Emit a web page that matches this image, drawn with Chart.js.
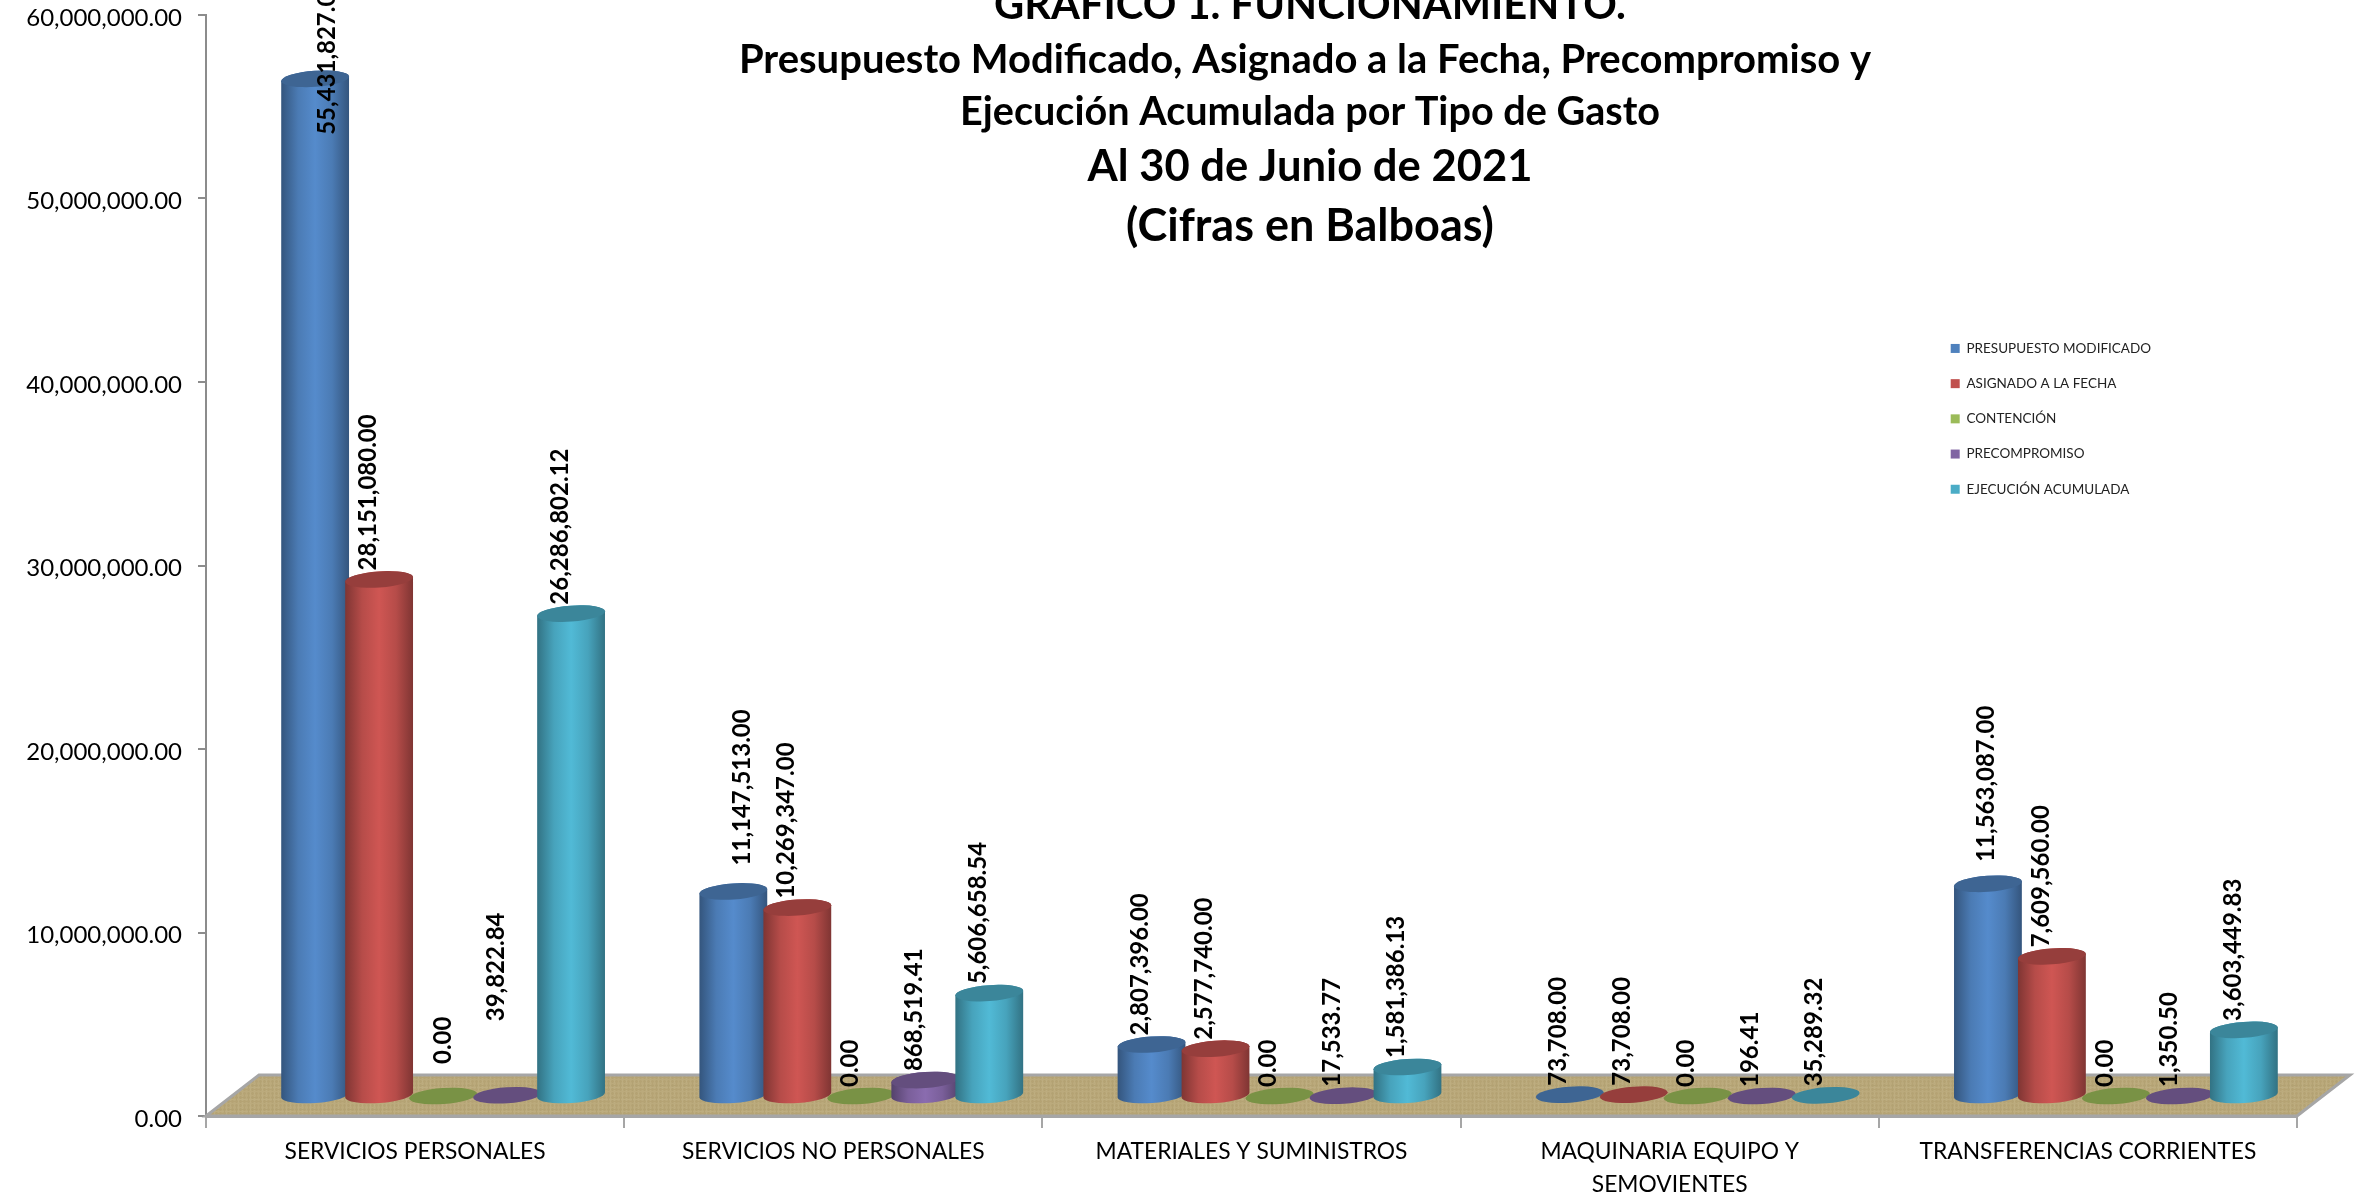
<!DOCTYPE html>
<html>
<head>
<meta charset="utf-8">
<title>Grafico 1</title>
<script src="https://cdnjs.cloudflare.com/ajax/libs/Chart.js/4.4.0/chart.umd.min.js"></script>
<style>
  html, body { margin: 0; padding: 0; background: #fff; overflow: hidden; }
  canvas { display: block; }
</style>
</head>
<body>
<canvas id="chartCanvas" width="2371" height="1199"></canvas>
<script>
const categories = [
    "SERVICIOS PERSONALES",
    "SERVICIOS NO PERSONALES",
    "MATERIALES Y SUMINISTROS",
    ["MAQUINARIA EQUIPO Y", "SEMOVIENTES"],
    "TRANSFERENCIAS CORRIENTES"
];
const seriesNames = ["PRESUPUESTO MODIFICADO", "ASIGNADO A LA FECHA", "CONTENCIÓN", "PRECOMPROMISO", "EJECUCIÓN ACUMULADA"];
const presupuesto = [55431827.00, 11147513.00, 2807396.00, 73708.00, 11563087.00];
const asignado = [28151080.00, 10269347.00, 2577740.00, 73708.00, 7609560.00];
const contencion = [0, 0, 0, 0, 0];
const precompromiso = [39822.84, 868519.41, 17533.77, 196.41, 1350.50];
const ejecucion = [26286802.12, 5606658.54, 1581386.13, 35289.32, 3603449.83];
const seriesColors = ["#4F81BD", "#C0504D", "#9BBB59", "#8064A2", "#4BACC6"];
const titleLines = [
    "GRAFICO 1. FUNCIONAMIENTO.",
    "Presupuesto Modificado, Asignado a la Fecha, Precompromiso y",
    "Ejecución Acumulada por Tipo de Gasto",
    "Al 30 de Junio de 2021",
    "(Cifras en Balboas)"
];

// text placement and the fake 3d depth: [x, y, max width, font size]
const titleStyle = [[1310, 5, 632, 42], [1305, 60, 1133, 40], [1310, 112, 700, 40], [1310, 167, 445, 44], [1310, 226, 369, 45]];
const depthX = 28, depthY = 20, backX = 53, backY = 41;
const tilt = -0.07, radiusY = 8;
// labels that were moved by hand in the original, "dataset:category": [dx, dy]
const labelNudges = {
    "0:0": [23, 65],
    "2:0": [11, -23],
    "3:0": [0, -65],
    "0:1": [20, -17],
    "0:4": [9, -13]
};

function money(v) {
    return v.toLocaleString("en-US", {minimumFractionDigits: 2, maximumFractionDigits: 2});
}

function shade(hex, f) {
    const n = parseInt(hex.slice(1), 16);
    const c = [n >> 16, (n >> 8) & 255, n & 255].map(v => Math.min(255, Math.round(v * f)));
    return "rgb(" + c.join(",") + ")";
}

function floorPattern(ctx) {
    const p = document.createElement("canvas");
    p.width = 12; p.height = 12;
    const g = p.getContext("2d");
    g.fillStyle = "#B8A779";
    g.fillRect(0, 0, 12, 12);
    const tones = ["#B3A273", "#BDAD80", "#B5A374", "#BBAA7C"];
    for (let i = 0; i < 12; i += 2) {
        g.fillStyle = tones[i / 2 % 4];
        g.fillRect(i, 0, 1, 12);
        g.fillStyle = tones[(i / 2 + 2) % 4];
        g.fillRect(0, i + 1, 12, 1);
    }
    return ctx.createPattern(p, "repeat");
}

function drawFloor(chart) {
    const ctx = chart.ctx, a = chart.chartArea;
    ctx.save();
    ctx.beginPath();
    ctx.moveTo(a.left, a.bottom);
    ctx.lineTo(a.right, a.bottom);
    ctx.lineTo(a.right + backX, a.bottom - backY);
    ctx.lineTo(a.left + backX, a.bottom - backY);
    ctx.closePath();
    ctx.fillStyle = floorPattern(ctx);
    ctx.fill();
    ctx.strokeStyle = "#A6A6A6";
    ctx.lineWidth = 3;
    ctx.stroke();
    ctx.restore();
}

function drawCylinder(ctx, el, color) {
    const cx = el.x + depthX, top = el.y - depthY, base = el.base - depthY;
    const rx = el.width / 2 + 2;
    const dy = rx * Math.sin(tilt), dx = rx * Math.cos(tilt);
    if (base - top > 2) {
        const grad = ctx.createLinearGradient(cx - rx, 0, cx + rx, 0);
        grad.addColorStop(0, shade(color, 0.66));
        grad.addColorStop(0.25, shade(color, 0.95));
        grad.addColorStop(0.5, shade(color, 1.08));
        grad.addColorStop(0.75, shade(color, 0.95));
        grad.addColorStop(1, shade(color, 0.66));
        ctx.beginPath();
        ctx.ellipse(cx, base, rx, radiusY, tilt, 0, Math.PI);
        ctx.lineTo(cx - dx, top - dy);
        ctx.ellipse(cx, top, rx, radiusY, tilt, Math.PI, Math.PI * 2);
        ctx.closePath();
        ctx.fillStyle = grad;
        ctx.fill();
    }
    ctx.beginPath();
    ctx.ellipse(cx, top, rx, radiusY, tilt, 0, Math.PI * 2);
    ctx.fillStyle = shade(color, 0.78);
    ctx.fill();
}

const cylinderPlugin = {
    id: "cylinders",
    beforeDraw(chart) {
        // legend sits inside the plot, top right
        const l = chart.legend;
        l.left = 1929; l.right = 2200; l.top = 320; l.bottom = 520;
        // Lato sits a little high on its middle baseline
        const y = chart.scales.y, drawLabels = y.drawLabels;
        y.drawLabels = function (area) {
            chart.ctx.save();
            chart.ctx.translate(0, 3);
            drawLabels.call(y, area);
            chart.ctx.restore();
        };
    },
    beforeDatasetsDraw(chart) {
        drawFloor(chart);
        chart.data.datasets.forEach((ds, i) => {
            chart.getDatasetMeta(i).data.forEach(el => drawCylinder(chart.ctx, el, ds.backgroundColor));
        });
        return false;
    },
    afterDraw(chart) {
        const ctx = chart.ctx;
        ctx.save();
        ctx.fillStyle = "#000";
        // value labels, turned to read upwards
        ctx.font = "bold 24px Lato";
        ctx.textAlign = "left";
        ctx.textBaseline = "middle";
        chart.data.datasets.forEach((ds, i) => {
            chart.getDatasetMeta(i).data.forEach((el, j) => {
                const nudge = labelNudges[i + ":" + j] || [0, 0];
                ctx.save();
                ctx.translate(el.x + depthX - 11 + nudge[0], el.y - depthY - radiusY - 1 + nudge[1]);
                ctx.rotate(-Math.PI / 2);
                ctx.fillText(money(ds.data[j]), 0, 0);
                ctx.restore();
            });
        });
        // title block
        ctx.textAlign = "center";
        titleLines.forEach((line, i) => {
            const s = titleStyle[i];
            ctx.font = "bold " + s[3] + "px Lato";
            ctx.fillText(line, s[0], s[1], s[2]);
        });
        ctx.restore();
    }
};

new Chart(document.getElementById("chartCanvas").getContext("2d"), {
    type: "bar",
    data: {
        labels: categories,
        datasets: [presupuesto, asignado, contencion, precompromiso, ejecucion].map((values, i) => ({
            label: seriesNames[i],
            data: values,
            backgroundColor: seriesColors[i],
            borderWidth: 0
        }))
    },
    options: {
        responsive: false,
        animation: false,
        categoryPercentage: 0.765,
        barPercentage: 1,
        layout: {padding: {top: 15, right: 74, left: 0, bottom: 0}},
        plugins: {
            title: {display: false},
            tooltip: {enabled: false},
            legend: {
                position: "chartArea",
                align: "start",
                labels: {
                    boxWidth: 9,
                    boxHeight: 9,
                    padding: 21.7,
                    color: "#222",
                    font: {family: "Lato", size: 13.5}
                }
            }
        },
        scales: {
            x: {
                afterFit(scale) { scale.height = 83; },
                grid: {drawOnChartArea: false, color: "#A6A6A6", lineWidth: 2, tickLength: 12, offset: true},
                border: {color: "#A6A6A6", width: 3},
                ticks: {color: "#000", maxRotation: 0, autoSkip: false, font: {family: "Lato", size: 22.8, lineHeight: 1.45}, padding: 7}
            },
            y: {
                min: 0,
                max: 60000000,
                afterFit(scale) { scale.width = 206; scale.paddingTop = 0; scale.paddingBottom = 0; },
                grid: {drawOnChartArea: false, color: "#8C8C8C", lineWidth: 2, tickLength: 8},
                border: {color: "#8C8C8C", width: 2},
                ticks: {stepSize: 10000000, color: "#000", font: {family: "Lato", size: 24}, padding: 16, callback: v => money(v)}
            }
        }
    },
    plugins: [cylinderPlugin]
});
</script>
</body>
</html>
